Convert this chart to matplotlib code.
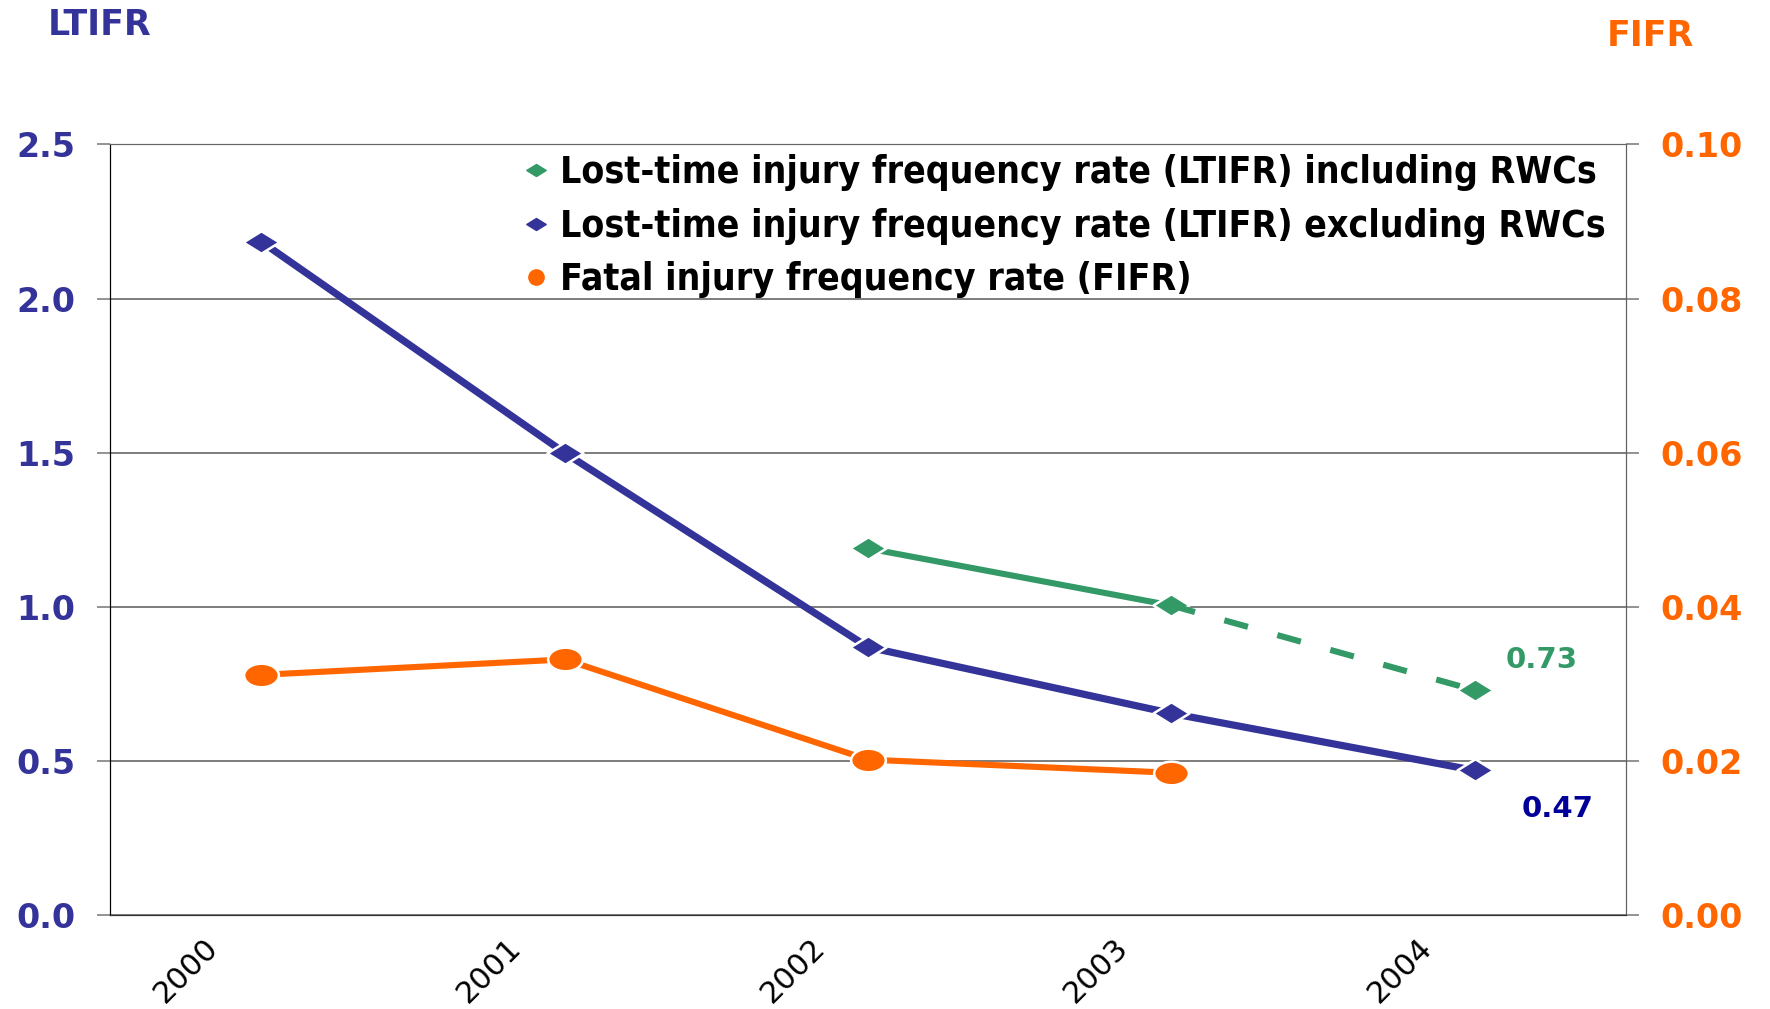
import matplotlib
matplotlib.use("Agg")
import matplotlib.pyplot as plt
from matplotlib.lines import Line2D
from matplotlib.path import Path
from matplotlib.transforms import ScaledTranslation
from matplotlib.font_manager import FontProperties

years = ['2000', '2001', '2002', '2003', '2004']
ltifr_excl = [2.185, 1.50, 0.87, 0.655, 0.47]
ltifr_incl = [None, None, 1.19, 1.005, 0.73]
fifr = [0.0312, 0.0332, 0.0202, 0.0185]

blue = '#333399'
green = '#339966'
orange = '#FF6600'

# markers wider than tall, like the original
diamond = Path([(-1, 0), (0, 0.62), (1, 0), (0, -0.62), (-1, 0)],
               [Path.MOVETO, Path.LINETO, Path.LINETO, Path.LINETO, Path.CLOSEPOLY])
ellipse = Path(Path.unit_circle().vertices * [1, 0.68], Path.unit_circle().codes)

fig = plt.figure(figsize=(17.7, 10.09), dpi=100)
ax = fig.add_axes([0.0619, 0.0928, 0.857, 0.764])
ax2 = ax.twinx()

x = list(range(len(years)))
ax.plot(x, ltifr_excl, color=blue, lw=5.2, marker=diamond, ms=26,
        mec='white', mew=1.8, zorder=3)
ax.plot(x[2:4], ltifr_incl[2:4], color=green, lw=4.4, marker=diamond, ms=26,
        mec='white', mew=1.8, zorder=3)
ax.plot(x[3:5], ltifr_incl[3:5], color=green, lw=4.4, dashes=(4, 5),
        marker=diamond, ms=26, mec='white', mew=1.8, markevery=[1], zorder=3)
ax2.plot(x[:4], fifr, color=orange, lw=4.4, marker=ellipse, ms=25,
         mec='white', mew=1.8, zorder=3)

ax.set_xlim(-0.5, 4.5)
ax.set_ylim(0, 2.5)
ax2.set_ylim(0, 0.10)
ax.set_yticks([0, 0.5, 1.0, 1.5, 2.0, 2.5])
ax.set_yticklabels(['%.1f' % v for v in ax.get_yticks()])
ax2.set_yticks([0, 0.02, 0.04, 0.06, 0.08, 0.10])
ax2.set_yticklabels(['%.2f' % v for v in ax2.get_yticks()])

ax.grid(axis='y', color='#666666', lw=1.2)
ax.set_axisbelow(True)
for a in (ax, ax2):
    a.spines['top'].set_color('#666666')
    a.spines['left'].set_color('black')
    a.spines['right'].set_color('#606060')
    a.spines['bottom'].set_color('#333333')

ax.tick_params(axis='y', length=9.5, width=1.2, color='#808080', pad=15,
               labelsize=24, labelcolor=blue)
for t in ax.get_yticklabels():
    t.set_fontweight('bold')
ax2.tick_params(axis='y', length=9.5, width=1.2, color='#808080', pad=15,
                labelsize=24, labelcolor=orange)
for t in ax2.get_yticklabels():
    t.set_fontweight('bold')

ax.set_xticks(x)
ax.set_xticklabels(years, rotation=45, ha='center', va='center',
                   rotation_mode='anchor', fontsize=22)
ax.tick_params(axis='x', length=0, pad=0)
for t in ax.get_xticklabels():
    t.set_transform(t.get_transform() + ScaledTranslation(-0.75, -0.55, fig.dpi_scale_trans))

fig.text(0.027, 0.992, 'LTIFR', color=blue, fontsize=25, fontweight='bold', va='top')
fig.text(0.908, 0.981, 'FIFR', color=orange, fontsize=25, fontweight='bold', va='top')

ax.annotate('0.73', (4, ltifr_incl[4]), xytext=(22, 22), textcoords='offset points',
            color=green, fontsize=21, fontweight='bold', va='center', ha='left')
ax.annotate('0.47', (4, ltifr_excl[4]), xytext=(34, -28), textcoords='offset points',
            color='#000099', fontsize=21, fontweight='bold', va='center', ha='left')

handles = [
    Line2D([], [], ls='none', marker=diamond, ms=14, color=green),
    Line2D([], [], ls='none', marker=diamond, ms=14, color=blue),
    Line2D([], [], ls='none', marker='o', ms=11, color=orange),
]
labels = ['Lost-time injury frequency rate (LTIFR) including RWCs',
          'Lost-time injury frequency rate (LTIFR) excluding RWCs',
          'Fatal injury frequency rate (FIFR)']
prop = FontProperties(family='DejaVu Sans', weight='bold', stretch='condensed', size=26.8)
ax2.legend(handles, labels, loc='upper left', bbox_to_anchor=(0.285, 0.866),
           bbox_transform=fig.transFigure, frameon=False, prop=prop,
           handlelength=0.7, handletextpad=0.3, labelspacing=0.45, borderpad=0)

fig.savefig('out.png', dpi=100)
